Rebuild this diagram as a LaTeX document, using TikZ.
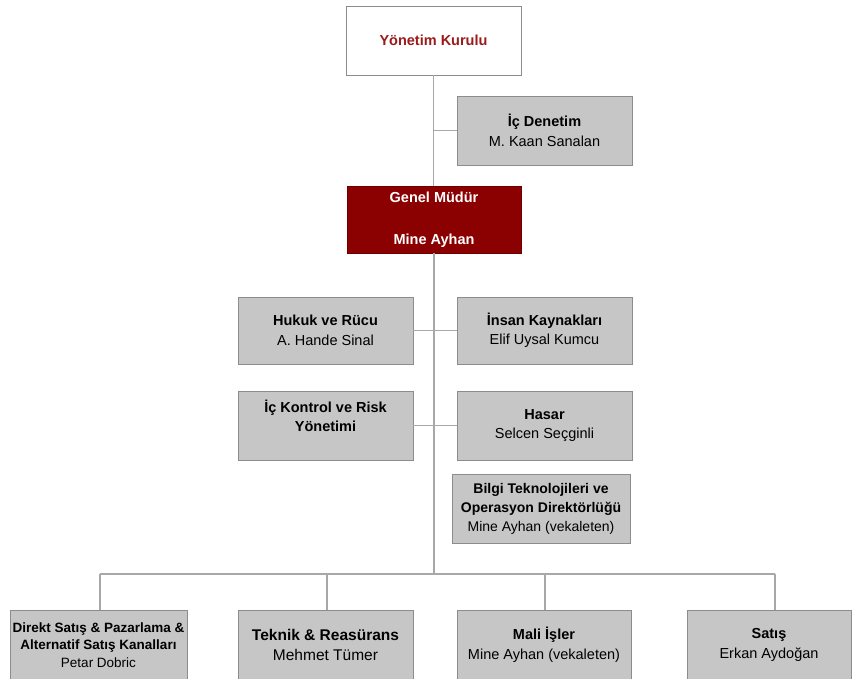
\documentclass[tikz,border=0pt]{standalone}
\usepackage{fontspec}
\setmainfont{Liberation Sans}
\definecolor{boxfill}{HTML}{C6C6C6}
\definecolor{boxline}{HTML}{8C8C8C}
\definecolor{connline}{HTML}{A8A8A8}
\definecolor{gmred}{HTML}{8B0000}
\definecolor{ykred}{HTML}{9B1B1B}
\begin{document}
\begin{tikzpicture}[x=1pt,y=-1pt,
  box/.style={draw=boxline, line width=0.8pt, fill=boxfill, minimum width=175pt,
    minimum height=69pt, inner sep=0pt, align=center, text=black,
    font=\fontsize{14.5}{19.5}\selectfont},
  conn/.style={draw=connline, line width=1.7pt}]
\path[use as bounding box] (0,0) rectangle (853,679);
\clip (0,0) rectangle (853,679);
% nodes
\node[box, fill=white] (yk) at (433.5,40.5) {\textcolor{ykred}{\textbf{Yönetim Kurulu}}};
\node[box] (icd) at (544.5,130.5) {\textbf{İç Denetim}\\M. Kaan Sanalan};
\node[box, fill=gmred, draw=gmred!80!black, text=white, minimum width=174pt, minimum height=67pt] (gm) at (434,219.5) {\textbf{Genel Müdür}\\[22.5pt]\textbf{Mine Ayhan}};
\node[box, minimum height=67pt] (huk) at (325.5,330.5) {\textbf{Hukuk ve Rücu}\\A. Hande Sinal};
\node[box, minimum height=67pt] (ik) at (544.5,330.5) {\textbf{İnsan Kaynakları}\\Elif Uysal Kumcu};
\node[box] (ick) at (325.5,425.5) {\textbf{İç Kontrol ve Risk}\\\textbf{Yönetimi}\\\mbox{}};
\node[box] (has) at (544.5,425.5) {\textbf{Hasar}\\Selcen Seçginli};
\node[box, minimum width=178pt, font=\fontsize{14}{19}\selectfont] (bt) at (541,508.5) {\textbf{Bilgi Teknolojileri ve}\\\textbf{Operasyon Direktörlüğü}\\Mine Ayhan (vekaleten)};
\node[box, minimum width=177pt, font=\fontsize{13.5}{17.5}\selectfont] (dir) at (98.5,645) {\textbf{Direkt Satış \& Pazarlama \&}\\\textbf{Alternatif Satış Kanalları}\\Petar Dobric};
\node[box, font=\fontsize{15.5}{20}\selectfont] (tek) at (325.5,645) {\textbf{Teknik \& Reasürans}\\Mehmet Tümer};
\node[box, minimum width=174pt] (mali) at (544,645) {\textbf{Mali İşler}\\Mine Ayhan (vekaleten)};
\node[box, minimum width=164pt] (sat) at (769,645) {\textbf{Satış}\\Erkan Aydoğan};
% bus coordinates
\coordinate (bus) at (434,574);
\coordinate (dDir) at (100,574);
\coordinate (dTek) at (327,574);
\coordinate (dMali) at (545,574);
\coordinate (dSat) at (775,574);
% connectors
\draw[conn] (yk.south) -- (yk.south |- gm.north);
\draw[conn] (yk.south |- icd.west) -- (icd.west);
\draw[conn] (gm.south) -- (bus);
\draw[conn] (huk.east) -- (ik.west);
\draw[conn] (ick.east) -- (has.west);
\draw[conn] (dDir) -- (dSat);
\draw[conn] (dDir) -- (dDir |- dir.north);
\draw[conn] (dTek) -- (dTek |- tek.north);
\draw[conn] (dMali) -- (dMali |- mali.north);
\draw[conn] (dSat) -- (dSat |- sat.north);
\end{tikzpicture}
\end{document}
